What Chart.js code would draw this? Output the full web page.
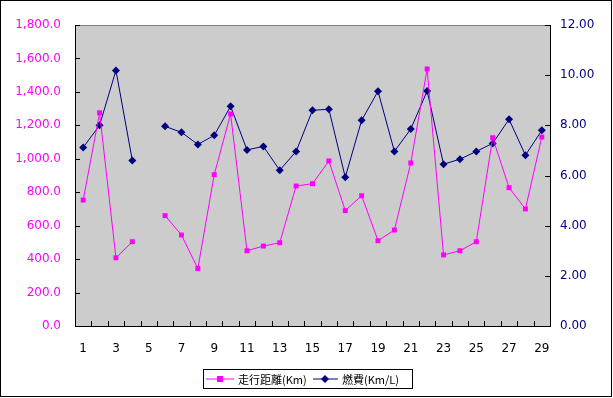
<!DOCTYPE html>
<html>
<head>
<meta charset="utf-8">
<script src="https://cdn.jsdelivr.net/npm/chart.js@4.4.1/dist/chart.umd.min.js"></script>
<style>
    body { margin: 0; background: #fff; }
    #wrap { width: 613px; height: 398px; position: relative; }
</style>
</head>
<body>
<div id="wrap"><canvas id="fuelChart" width="613" height="398"></canvas></div>
<script>
// =========================
// DATA
// =========================
const days = Array.from({ length: 29 }, (_, i) => String(i + 1));

const distance = [753, 1275, 408, 504, null, 660, 544, 343, 905, 1268,
    450, 478, 498, 837, 851, 987, 690, 779, 510, 574,
    975, 1537, 425, 450, 504, 1126, 827, 700, 1130];

const fuel = [7.12, 8.0, 10.19, 6.6, null, 7.96, 7.72, 7.24, 7.6, 8.76,
    7.02, 7.16, 6.21, 6.96, 8.6, 8.64, 5.93, 8.2, 9.36, 6.96,
    7.85, 9.37, 6.45, 6.65, 6.96, 7.28, 8.24, 6.81, 7.8];

const distanceLabel = "走行距離(Km)";
const fuelLabel = "燃費(Km/L)";

const MAGENTA = "#FF00FF";
const NAVY = "#000080";
const NUM_FONT = { family: "'DejaVu Sans'", size: 12 };

// =========================
// PLOT AREA + INWARD TICKS + LEGEND
// =========================
const excelLook = {
    id: "excelLook",
    beforeDraw(chart) {
        const { ctx, chartArea: a } = chart;
        ctx.save();
        ctx.fillStyle = "#CCCCCC";
        ctx.fillRect(a.left, a.top, a.right - a.left, a.bottom - a.top);
        ctx.restore();
    },
    afterDraw(chart) {
        const { ctx, chartArea: a, scales } = chart;
        ctx.save();
        ctx.lineWidth = 1;

        // top edge of plot area
        ctx.strokeStyle = "#808080";
        ctx.beginPath();
        ctx.moveTo(a.left, a.top + 0.5);
        ctx.lineTo(a.right, a.top + 0.5);
        ctx.stroke();

        // inward tick marks
        ctx.strokeStyle = "#000";
        ctx.beginPath();
        scales.y.ticks.forEach(t => {
            const y = Math.round(scales.y.getPixelForValue(t.value)) + 0.5;
            ctx.moveTo(a.left, y);
            ctx.lineTo(a.left + 5, y);
        });
        scales.y1.ticks.forEach(t => {
            const y = Math.round(scales.y1.getPixelForValue(t.value)) + 0.5;
            ctx.moveTo(a.right, y);
            ctx.lineTo(a.right - 5, y);
        });
        const half = (scales.x.getPixelForValue(1) - scales.x.getPixelForValue(0)) / 2;
        for (let i = 1; i < days.length; i++) {
            const x = Math.round(scales.x.getPixelForValue(i) - half) + 0.5;
            ctx.moveTo(x, a.bottom);
            ctx.lineTo(x, a.bottom - 5);
        }
        ctx.stroke();

        // legend
        const boxX = 203.5, boxY = 369.5, boxW = 209, boxH = 19;
        ctx.strokeStyle = "#000";
        ctx.strokeRect(boxX, boxY, boxW, boxH);
        const midY = boxY + boxH / 2;
        ctx.font = "11px 'Noto Sans CJK JP'";
        ctx.textBaseline = "middle";
        ctx.fillStyle = "#000";

        // series 1
        ctx.strokeStyle = MAGENTA;
        ctx.beginPath();
        ctx.moveTo(206, midY);
        ctx.lineTo(234, midY);
        ctx.stroke();
        ctx.fillStyle = MAGENTA;
        ctx.fillRect(217, midY - 3, 6, 6);
        ctx.fillStyle = "#000";
        ctx.fillText(distanceLabel, 238, midY + 1);

        // series 2
        ctx.strokeStyle = NAVY;
        ctx.beginPath();
        ctx.moveTo(313, midY);
        ctx.lineTo(338, midY);
        ctx.stroke();
        ctx.fillStyle = NAVY;
        ctx.beginPath();
        ctx.moveTo(325, midY - 4);
        ctx.lineTo(329, midY);
        ctx.lineTo(325, midY + 4);
        ctx.lineTo(321, midY);
        ctx.closePath();
        ctx.fill();
        ctx.fillStyle = "#000";
        ctx.fillText(fuelLabel, 342, midY + 1);

        // outer frame
        ctx.strokeStyle = "#000";
        ctx.strokeRect(0.5, 0.5, 611, 396);
        ctx.restore();
    }
};

// =========================
// CHART
// =========================
new Chart(document.getElementById("fuelChart"), {
    type: "line",
    data: {
        labels: days,
        datasets: [
            {
                label: distanceLabel,
                data: distance,
                yAxisID: "y",
                borderColor: MAGENTA,
                backgroundColor: MAGENTA,
                borderWidth: 1,
                pointStyle: "rect",
                pointRadius: 3.5,
                pointBorderWidth: 0,
                spanGaps: false,
                tension: 0
            },
            {
                label: fuelLabel,
                data: fuel,
                yAxisID: "y1",
                borderColor: NAVY,
                backgroundColor: NAVY,
                borderWidth: 1,
                pointStyle: "rectRot",
                pointRadius: 4,
                pointBorderWidth: 0,
                spanGaps: false,
                tension: 0
            }
        ]
    },
    options: {
        responsive: false,
        animation: false,
        layout: { padding: { top: 25, left: 0, right: 0, bottom: 0 } },
        plugins: {
            legend: { display: false },
            tooltip: { enabled: false }
        },
        scales: {
            x: {
                offset: true,
                grid: { display: false, offset: true },
                border: { color: "#000", width: 1 },
                ticks: {
                    autoSkip: false,
                    maxRotation: 0,
                    padding: 8,
                    color: "#000",
                    font: NUM_FONT,
                    callback: (v, i) => (i % 2 === 0 ? days[i] : "")
                },
                afterFit: s => { s.height = 72; }
            },
            y: {
                position: "left",
                min: 0,
                max: 1800,
                grid: { display: false, drawTicks: false },
                border: { color: "#000", width: 1 },
                ticks: {
                    stepSize: 200,
                    padding: 14,
                    color: MAGENTA,
                    font: NUM_FONT,
                    callback: v => v.toLocaleString("en-US", { minimumFractionDigits: 1, maximumFractionDigits: 1 })
                },
                afterFit: s => { s.width = 75; }
            },
            y1: {
                position: "right",
                min: 0,
                max: 12,
                grid: { display: false, drawTicks: false },
                border: { color: "#000", width: 1 },
                ticks: {
                    stepSize: 2,
                    padding: 10,
                    color: NAVY,
                    font: NUM_FONT,
                    callback: v => v.toFixed(2)
                },
                afterFit: s => { s.width = 63; }
            }
        }
    },
    plugins: [excelLook]
});
</script>
</body>
</html>
